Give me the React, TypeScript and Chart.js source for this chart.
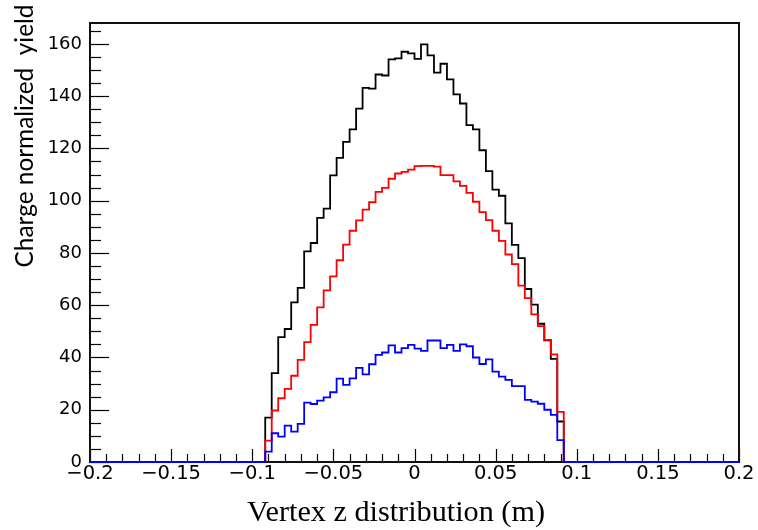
import React, { useEffect, useRef } from "react";
import { Chart, registerables } from "chart.js";

Chart.register(...registerables);

// Histogram binning: 100 bins over [-0.2, 0.2]; the filled bins start at bin 27 (z = -0.092)
const X_MIN = -0.2;
const X_MAX = 0.2;
const N_BINS = 100;
const FIRST_FILLED_BIN = 27;
const Y_MAX = 168;

// Bin contents, z from -0.092 to 0.092 (bin width 0.004)
const blackYield = [
  17, 34, 47.8, 50.9, 61.1, 66.6, 80.6, 83.8, 93.4, 97.0, 109.7, 116.4, 122.5, 127.3, 135.2,
  143.2, 142.9, 148.3, 147.9, 154.1, 154.5, 157.0, 156.4, 154.3, 159.8, 155.6, 149.0, 152.4,
  146.4, 140.7, 137.2, 128.9, 127.3, 119.3, 111.3, 104.2, 101.9, 91.3, 83.1, 78.0, 66.2, 60.2,
  52.9, 46.6, 39.5, 15.5,
];
const redYield = [
  8.2, 19.7, 24.4, 28.0, 33.0, 39.1, 45.9, 52.5, 59.2, 65.7, 71.0, 77.2, 83.2, 88.5, 92.5, 96.6,
  99.4, 103.4, 104.9, 108.4, 110.4, 111.0, 111.9, 113.2, 113.3, 113.3, 113.0, 109.8, 109.8, 107.4,
  105.7, 103.0, 99.6, 95.6, 92.6, 88.5, 84.6, 79.4, 75.7, 67.5, 62.7, 56.5, 52.0, 46.7, 41.2, 19.2,
];
const blueYield = [
  4.0, 11.0, 9.7, 13.9, 11.6, 14.6, 22.7, 22.2, 23.5, 24.7, 26.7, 31.9, 29.5, 32.0, 36.0, 33.5,
  37.4, 41.0, 41.9, 44.6, 41.9, 43.6, 44.8, 43.4, 42.5, 46.5, 46.5, 43.6, 44.8, 42.5, 45.0, 44.3,
  40.0, 37.5, 39.3, 34.6, 32.7, 31.4, 29.0, 29.0, 23.8, 23.1, 22.3, 20.0, 18.0, 8.4,
];

const xMajorTicks = [-0.2, -0.15, -0.1, -0.05, 0, 0.05, 0.1, 0.15, 0.2];
const xTickLabels = ["\u22120.2", "\u22120.15", "\u22120.1", "\u22120.05", "0", "0.05", "0.1", "0.15", "0.2"];
const yMajorTicks = [0, 20, 40, 60, 80, 100, 120, 140, 160];
const yTickLabels = ["0", "20", "40", "60", "80", "100", "120", "140", "160"];
const X_MINOR_STEP = 0.01;
const Y_MINOR_STEP = 5;

const xTitle = "Vertex z distribution (m)";
const yTitle = "Charge normalized  yield";

function toSteps(vals: number[]) {
  const w = (X_MAX - X_MIN) / N_BINS;
  const pts: { x: number; y: number }[] = [];
  for (let i = 0; i <= N_BINS; i++) {
    const j = i - FIRST_FILLED_BIN;
    const v = i < N_BINS && j >= 0 && j < vals.length ? vals[j] : 0;
    pts.push({ x: X_MIN + i * w, y: v });
  }
  return pts;
}

const rootFrame = {
  id: "rootFrame",
  beforeDatasetsDraw(chart: any) {
    const { ctx, chartArea: a, scales } = chart;
    const xs = scales.x;
    const ys = scales.y;
    ctx.save();
    ctx.strokeStyle = "#000";
    ctx.lineWidth = 1.2;
    const nx = Math.round((X_MAX - X_MIN) / X_MINOR_STEP);
    for (let i = 0; i <= nx; i++) {
      const v = X_MIN + i * X_MINOR_STEP;
      const px = Math.round(xs.getPixelForValue(v)) + 0.5;
      const len = i % 5 === 0 ? 13 : 8;
      ctx.beginPath();
      ctx.moveTo(px, a.bottom);
      ctx.lineTo(px, a.bottom - len);
      ctx.stroke();
    }
    const ny = Math.floor(Y_MAX / Y_MINOR_STEP);
    for (let i = 0; i <= ny; i++) {
      const v = i * Y_MINOR_STEP;
      const py = Math.round(ys.getPixelForValue(v)) + 0.5;
      const len = i % 4 === 0 ? 19 : 11;
      ctx.beginPath();
      ctx.moveTo(a.left, py);
      ctx.lineTo(a.left + len, py);
      ctx.stroke();
    }
    ctx.lineWidth = 2;
    ctx.strokeStyle = "#111";
    ctx.strokeRect(a.left, a.top, a.right - a.left, a.bottom - a.top);
    ctx.restore();
  },
  afterDraw(chart: any) {
    const { ctx } = chart;
    ctx.save();
    ctx.fillStyle = "#000";
    let fs = 22;
    ctx.font = `${fs}px Lato, "Open Sans", sans-serif`;
    let w = ctx.measureText(yTitle).width;
    fs = (fs * 263) / w;
    ctx.font = `${fs}px Lato, "Open Sans", sans-serif`;
    ctx.translate(33, 136);
    ctx.rotate(-Math.PI / 2);
    ctx.textAlign = "center";
    ctx.textBaseline = "alphabetic";
    ctx.fillText(yTitle, 0, 0);
    ctx.restore();
    ctx.save();
    let fx = 27;
    ctx.font = `${fx}px "Liberation Serif", serif`;
    w = ctx.measureText(xTitle).width;
    fx = (fx * 298) / w;
    ctx.font = `${fx}px "Liberation Serif", serif`;
    ctx.fillStyle = "#000";
    ctx.textAlign = "center";
    ctx.textBaseline = "alphabetic";
    ctx.fillText(xTitle, 396, 521);
    ctx.restore();
  },
};

export default function App() {
  const ref = useRef<HTMLCanvasElement | null>(null);
  useEffect(() => {
    if (!ref.current) return;
    const mk = (label: string, vals: number[], color: string, order: number) => ({
      label,
      data: toSteps(vals),
      borderColor: color,
      backgroundColor: color,
      borderWidth: 1.8,
      stepped: "before" as const,
      pointRadius: 0,
      fill: false,
      clip: 4,
      order,
    });
    const chart = new Chart(ref.current, {
      type: "line",
      data: {
        datasets: [
          mk("black", blackYield, "#000000", 2),
          mk("red", redYield, "#ff0000", 1),
          mk("blue", blueYield, "#0000ff", 0),
        ],
      },
      options: {
        animation: false,
        responsive: false,
        devicePixelRatio: 1,
        layout: { padding: { top: 23, right: 19, bottom: 0, left: 0 } },
        plugins: { legend: { display: false }, tooltip: { enabled: false } },
        scales: {
          x: {
            type: "linear",
            min: X_MIN,
            max: X_MAX,
            grid: { display: false, drawTicks: false },
            border: { display: false },
            afterBuildTicks: (s: any) => {
              s.ticks = xMajorTicks.map((v) => ({ value: v }));
            },
            afterFit: (s: any) => {
              s.height = 68;
            },
            ticks: {
              autoSkip: false,
              maxRotation: 0,
              padding: 0,
              color: "#000",
              font: { family: '"DejaVu Sans", sans-serif', size: 19.5 },
              callback: (_v: any, i: number) => xTickLabels[i],
            },
          },
          y: {
            type: "linear",
            min: 0,
            max: Y_MAX,
            grid: { display: false, drawTicks: false },
            border: { display: false },
            afterBuildTicks: (s: any) => {
              s.ticks = yMajorTicks.map((v) => ({ value: v }));
            },
            afterFit: (s: any) => {
              s.width = 90;
            },
            ticks: {
              autoSkip: false,
              padding: 8,
              color: "#000",
              font: { family: '"DejaVu Sans", sans-serif', size: 18 },
              callback: (_v: any, i: number) => yTickLabels[i],
            },
          },
        },
      },
      plugins: [rootFrame],
    });
    return () => chart.destroy();
  }, []);
  return (
    <div style={{ position: "fixed", left: 0, top: 0, width: 758, height: 530, background: "#fff" }}>
      <canvas ref={ref} width={758} height={530} />
    </div>
  );
}
